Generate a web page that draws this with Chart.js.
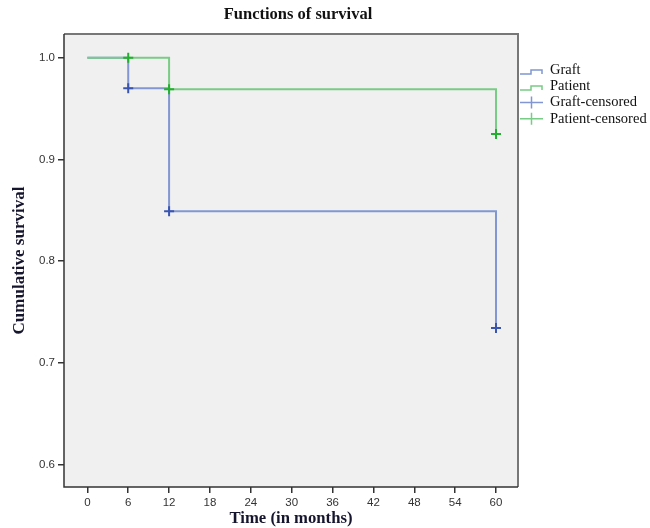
<!DOCTYPE html>
<html>
<head>
<meta charset="utf-8">
<script src="https://cdn.jsdelivr.net/npm/chart.js@4"></script>
<style>
html,body{margin:0;padding:0;background:#fff;}
#wrap{position:relative;width:650px;height:528px;}
</style>
</head>
<body>
<div id="wrap"><canvas id="c" width="650" height="528"></canvas></div>
<script>
// ---- data ----
const titleText = "Functions of survival";
const xTitle = "Time (in months)";
const yTitle = "Cumulative survival";
const xTicks = [0, 6, 12, 18, 24, 30, 36, 42, 48, 54, 60];
const yTicks = [0.6, 0.7, 0.8, 0.9, 1.0];
const graftTimes = [0, 6, 12, 60];
const graftSurv = [1.0, 0.970, 0.849, 0.734];
const patientTimes = [0, 12, 60];
const patientSurv = [1.0, 0.969, 0.925];
const graftCensTimes = [6, 12, 60];
const graftCensSurv = [0.970, 0.849, 0.734];
const patientCensTimes = [6, 12, 60];
const patientCensSurv = [1.0, 0.969, 0.925];
const legendLabels = ["Graft", "Patient", "Graft-censored", "Patient-censored"];

const blueLine = '#8196d2';
const greenLine = '#78cc85';
const blueMark = '#3a55b0';
const greenMark = '#22b02e';

const toPts = (xs, ys) => xs.map((x, i) => ({x: x, y: ys[i]}));

const framePlugin = {
  id: 'frame',
  beforeDraw(chart) {
    const {ctx, chartArea: a} = chart;
    ctx.save();
    ctx.fillStyle = '#f0f0f0';
    ctx.fillRect(a.left, a.top, a.right - a.left, a.bottom - a.top);
    ctx.restore();
  },
  afterDraw(chart) {
    const {ctx, chartArea: a} = chart;
    ctx.save();
    ctx.strokeStyle = '#777';
    ctx.lineWidth = 2;
    ctx.beginPath();
    ctx.moveTo(a.left, a.top); ctx.lineTo(a.right, a.top); ctx.lineTo(a.right, a.bottom);
    ctx.stroke();
    ctx.strokeStyle = '#333';
    ctx.lineWidth = 1.5;
    ctx.beginPath();
    ctx.moveTo(a.left, a.top); ctx.lineTo(a.left, a.bottom); ctx.lineTo(a.right, a.bottom);
    ctx.stroke();
    // title
    ctx.fillStyle = '#111';
    ctx.font = 'bold 16.5px "Liberation Serif"';
    ctx.textAlign = 'center';
    ctx.textBaseline = 'middle';
    ctx.fillText(titleText, 298, 15);
    // legend
    const x0 = 520, x1 = 543, tx = 550;
    const rows = [70.5, 86.5, 102.5, 118.8];
    ctx.font = '14.5px "Liberation Serif"';
    ctx.textAlign = 'left';
    legendLabels.forEach((lab, i) => {
      const c = rows[i];
      ctx.lineWidth = 1.5;
      if (i < 2) {
        ctx.strokeStyle = i === 0 ? blueLine : greenLine;
        ctx.beginPath();
        ctx.moveTo(x0, c + 3.5); ctx.lineTo(531, c + 3.5); ctx.lineTo(531, c - 0.5);
        ctx.lineTo(542, c - 0.5); ctx.lineTo(542, c + 3.5);
        ctx.stroke();
      } else {
        ctx.strokeStyle = i === 2 ? blueLine : greenLine;
        ctx.beginPath();
        ctx.moveTo(x0, c); ctx.lineTo(x1, c);
        ctx.moveTo(531.5, c - 6); ctx.lineTo(531.5, c + 6);
        ctx.stroke();
      }
      ctx.fillStyle = '#111';
      ctx.fillText(lab, tx, c);
    });
    ctx.restore();
  }
};

new Chart(document.getElementById('c'), {
  type: 'line',
  data: {
    datasets: [
      {label: legendLabels[0], data: toPts(graftTimes, graftSurv), stepped: true, order: 2,
       borderColor: blueLine, borderWidth: 2, pointRadius: 0, fill: false},
      {label: legendLabels[1], data: toPts(patientTimes, patientSurv), stepped: true, order: 1,
       borderColor: greenLine, borderWidth: 2, pointRadius: 0, fill: false},
      {label: legendLabels[2], data: toPts(graftCensTimes, graftCensSurv), showLine: false, order: 0,
       pointStyle: 'cross', pointRadius: 5, pointBorderWidth: 2, borderColor: blueMark, pointBorderColor: blueMark},
      {label: legendLabels[3], data: toPts(patientCensTimes, patientCensSurv), showLine: false, order: 0,
       pointStyle: 'cross', pointRadius: 5, pointBorderWidth: 2, borderColor: greenMark, pointBorderColor: greenMark}
    ]
  },
  options: {
    responsive: false,
    animation: false,
    layout: {padding: {top: 34, right: 132, left: 0, bottom: 0}},
    plugins: {legend: {display: false}, title: {display: false}, tooltip: {enabled: false}},
    scales: {
      x: {
        type: 'linear', min: -3.43, max: 63.23,
        afterBuildTicks: s => { s.ticks = xTicks.map(v => ({value: v})); },
        afterFit: s => { s.height = 41; },
        grid: {drawOnChartArea: false, drawTicks: true, tickLength: 6, tickColor: '#333', lineWidth: 1.5},
        border: {display: false},
        ticks: {color: '#333', font: {family: '"Liberation Sans"', size: 11.5}, padding: 3, maxRotation: 0, autoSkip: false},
        title: {display: true, text: xTitle, color: '#15152e', font: {family: '"Liberation Serif"', size: 16.7, weight: 'bold'}, padding: {top: 0, bottom: -1}}
      },
      y: {
        type: 'linear', min: 0.5777, max: 1.0233,
        afterBuildTicks: s => { s.ticks = yTicks.map(v => ({value: v})); },
        afterFit: s => { s.width = 64; },
        grid: {drawOnChartArea: false, drawTicks: true, tickLength: 6, tickColor: '#333', lineWidth: 1.5},
        border: {display: false},
        ticks: {color: '#333', font: {family: '"Liberation Sans"', size: 11.5}, padding: 3, callback: v => v.toFixed(1), autoSkip: false},
        title: {display: true, text: yTitle, color: '#15152e', font: {family: '"Liberation Serif"', size: 17, weight: 'bold'}, padding: {top: 9, bottom: 0}}
      }
    }
  },
  plugins: [framePlugin]
});
</script>
</body>
</html>
